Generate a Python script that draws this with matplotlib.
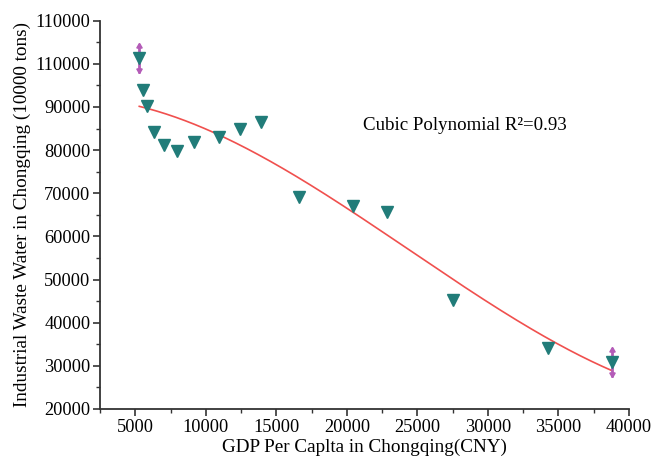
import numpy as np
import matplotlib
matplotlib.use("Agg")
import matplotlib.pyplot as plt
from matplotlib.ticker import MultipleLocator, FixedLocator

plt.rcParams['font.family'] = ['Liberation Serif', 'DejaVu Serif']

# GDP per capita (CNY) and industrial waste water (10000 tons)
gdp = [5283, 5546, 5829, 6297, 7005, 7955, 9131, 10902, 12440, 13906,
       16641, 20424, 22833, 27530, 34260, 38775]
waste = [101300, 93950, 90300, 84280, 81200, 79800, 81960, 82980, 84840,
         86450, 69080, 67130, 65740, 45270, 34140, 30830]

# error bars on the first and last observations
err_idx = [0, 15]
err_val = [3400, 3400]

y_ticks = [20000, 30000, 40000, 50000, 60000, 70000, 80000, 90000, 100000, 110000]
y_tick_labels = ["20000", "30000", "40000", "50000", "60000", "70000",
                 "80000", "90000", "110000", "110000"]
x_ticks = [5000, 10000, 15000, 20000, 25000, 30000, 35000, 40000]

fig = plt.figure(figsize=(6.55, 4.58), dpi=100)
ax = fig.add_axes([0.1527, 0.107, 0.8076, 0.8478])

gdp_arr = np.array(gdp, dtype=float)
waste_arr = np.array(waste, dtype=float)

# cubic polynomial fit
coef = np.polyfit(gdp_arr, waste_arr, 3)
xf = np.linspace(gdp_arr.min(), gdp_arr.max(), 300)
ax.plot(xf, np.polyval(coef, xf), color='#F0504E', lw=1.2, zorder=2)

# error bars with arrow-like heads
purple = '#B45CB8'
ex = gdp_arr[err_idx]
ey = waste_arr[err_idx]
ee = np.array(err_val, dtype=float)
ax.errorbar(ex, ey, yerr=ee, fmt='none', ecolor=purple, elinewidth=2.0, capsize=0, zorder=3)
ax.plot(ex, ey + ee - 600, linestyle='none', marker=(3, 0, 0), ms=4.5, color=purple, zorder=3)
ax.plot(ex, ey - ee + 600, linestyle='none', marker=(3, 0, 180), ms=4.5, color=purple, zorder=3)

ax.plot(gdp_arr, waste_arr, linestyle='none', marker='v', ms=9,
        color='#217C79', markeredgecolor='#217C79', zorder=4)

ax.set_xlim(2500, 40000)
ax.set_ylim(20000, 110000)
ax.xaxis.set_major_locator(FixedLocator(x_ticks))
ax.xaxis.set_minor_locator(MultipleLocator(2500))
ax.yaxis.set_major_locator(FixedLocator(y_ticks))
ax.yaxis.set_minor_locator(MultipleLocator(5000))
ax.set_yticklabels(y_tick_labels)
ax.set_xticklabels([str(v) for v in x_ticks])

for s in ['top', 'right']:
    ax.spines[s].set_visible(False)
for s in ['left', 'bottom']:
    ax.spines[s].set_linewidth(1.3)
    ax.spines[s].set_color('#333333')

ax.tick_params(which='major', direction='out', length=5, width=1.2,
               color='#333333', labelsize=13.2, pad=2)
ax.tick_params(which='minor', direction='out', length=3, width=1.0, color='#333333')

ax.set_xlabel("GDP Per Caplta in Chongqing(CNY)", fontsize=13.8, labelpad=2)
ax.set_ylabel("Industrial Waste Water in Chongqing (10000 tons)", fontsize=13.8, labelpad=3)

ax.text(0.497, 0.729, "Cubic Polynomial R²=0.93", transform=ax.transAxes,
        fontsize=13.6, va='center', ha='left')

fig.savefig("out.png", dpi=100)
